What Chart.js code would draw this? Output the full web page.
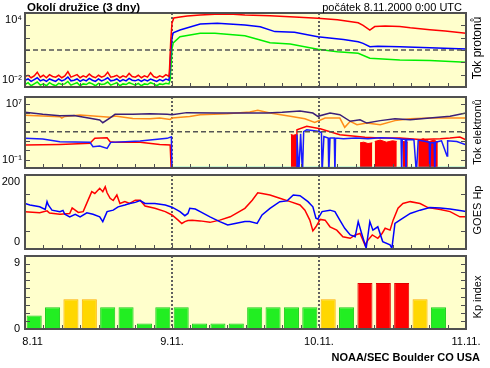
<!DOCTYPE html>
<html>
<head>
<meta charset="utf-8">
<script src="https://cdn.jsdelivr.net/npm/chart.js"></script>
<style>
  body { margin: 0; background: #fff; font-family: "Liberation Sans", Arial, sans-serif; }
  #wrap { position: relative; width: 490px; height: 368px; overflow: hidden; }
  canvas { position: absolute; left: 0; }
  .txt { position: absolute; white-space: nowrap; color: #000; }
  .side { position: absolute; left: 477px; font-size: 11px; white-space: nowrap;
          transform: translate(-50%, -50%) rotate(-90deg); }
</style>
</head>
<body>
<div id="wrap">
  <canvas id="p1" width="490" height="92" style="top:0px"></canvas>
  <canvas id="p2" width="490" height="80" style="top:92px"></canvas>
  <canvas id="p3" width="490" height="80" style="top:172px"></canvas>
  <canvas id="p4" width="490" height="116" style="top:252px"></canvas>
  <div class="txt" style="left:27px;top:1px;font-weight:bold;font-size:11.5px">Okolí družice (3 dny)</div>
  <div class="txt" style="right:28px;top:1px;font-size:11px">počátek 8.11.2000 0:00 UTC</div>
  <div class="side" style="top:48px;font-size:12px">Tok protonů</div>
  <div class="side" style="top:132px">Tok elektronů</div>
  <div class="side" style="top:210px">GOES Hp</div>
  <div class="side" style="top:297px">Kp index</div>
  <div class="txt" style="right:10px;top:351px;font-weight:bold;font-size:11px">NOAA/SEC Boulder CO USA</div>
</div>
<script>
// time axis (hours from 8.11. 0:00 UTC)
const dayHours = [24, 48];
const xLabels = ["8.11", "9.11.", "10.11.", "11.11."];

// protons, log10 of flux
const noiseHours = [0,0.5,1,1.5,2,2.5,3,3.5,4,4.5,5,5.5,6,6.5,7,7.5,8,8.5,9,9.5,10,10.5,11,11.5,
  12,12.5,13,13.5,14,14.5,15,15.5,16,16.5,17,17.5,18,18.5,19,19.5,20,20.5,21,21.5,22,22.5,23,23.5];
const pRedNoise = [-1.15,-1.05,-1.25,-1.1,-0.8,-1.2,-1.05,-1.25,-1.0,-1.15,
  -1.2,-1.05,-1.25,-1.1,-0.75,-1.2,-1.1,-1.0,-1.25,-1.1,
  -1.2,-0.95,-1.15,-1.25,-1.05,-1.2,-1.1,-0.8,-1.2,-1.15,
  -1.05,-1.25,-1.1,-1.2,-0.9,-1.15,-1.2,-1.05,-1.25,-1.1,
  -1.2,-0.85,-1.15,-1.25,-1.1,-1.2,-1.0,-1.15];
const pBlueNoise = [-1.45,-1.35,-1.55,-1.4,-1.25,-1.5,-1.4,-1.55,-1.35,-1.45,
  -1.55,-1.35,-1.5,-1.4,-1.2,-1.5,-1.45,-1.35,-1.55,-1.4,
  -1.5,-1.3,-1.45,-1.55,-1.35,-1.5,-1.4,-1.25,-1.5,-1.45,
  -1.35,-1.55,-1.4,-1.5,-1.3,-1.45,-1.5,-1.4,-1.55,-1.4,
  -1.5,-1.35,-1.45,-1.55,-1.4,-1.5,-1.35,-1.45];
const pGreenNoise = [-1.8,-1.65,-1.9,-1.75,-1.6,-1.85,-1.75,-1.9,-1.65,-1.8,
  -1.9,-1.7,-1.8,-1.75,-1.55,-1.85,-1.75,-1.65,-1.9,-1.75,
  -1.8,-1.65,-1.75,-1.9,-1.7,-1.8,-1.75,-1.6,-1.85,-1.75,
  -1.65,-1.9,-1.75,-1.8,-1.65,-1.75,-1.85,-1.7,-1.9,-1.75,
  -1.8,-1.65,-1.75,-1.9,-1.75,-1.8,-1.7,-1.75];
const pRedH = [23.6,23.8,24.0,24.3,25.3,26.5,28.6,31,34,35.9,40,44,47.8,51,54.4,55.2,56.3,57.1,58.8,61.2,62.9,66.1,68.6,72];
const pRedE = [-0.5,1.8,3.2,3.6,3.68,3.75,3.84,3.9,3.9,3.84,3.78,3.68,3.57,3.45,3.21,3.0,2.62,2.9,2.95,2.9,2.8,2.65,2.55,2.35];
const pBlueH = [23.6,23.8,24.0,24.2,25.3,28.6,31.4,35.9,38.4,40.8,44,47.8,52,54.4,55.2,56.3,57.6,61.2,66.1,72];
const pBlueE = [-1.0,0.8,2.0,2.4,2.62,3.1,3.17,3.03,2.89,2.49,2.44,2.08,1.85,1.67,1.54,1.27,1.3,1.27,1.19,1.08];
const pGreenH = [23.7,23.9,24.0,24.2,25.3,28.6,31,35.9,38.4,40,43.3,47.8,51,54.4,56.3,61.2,66.1,72];
const pGreenE = [-1.4,0.2,1.1,1.57,2.08,2.35,2.35,2.15,1.81,1.59,1.49,1.06,0.85,0.73,0.33,0.19,0.14,0.0];
const protonAlert = 1;
const p1TickExp = [-2, -1, 0, 1, 2, 3, 4];
const p1TickLabels = [["10⁻²", ""], "", "", "", "", "", ["", "10⁴"]];

// electrons, log10 of flux
const ePurpleH = [0,2.9,5.7,8,10.6,12.2,12.7,13.9,14.7,17.6,20.4,23.2,24.0,26.4,31.3,35,39.5,42,44.9,47.0,47.8,49.8,51.4,53.1,54.7,55.8,58.0,60.4,62.9,66.1,69.4,72];
const ePurpleE = [5.8,5.5,5.3,5.35,4.93,4.69,4.3,5.0,5.5,5.5,5.6,5.5,5.45,5.75,5.69,5.7,5.69,5.8,6.0,5.69,5.22,5.69,5.46,4.5,4.73,4.25,4.6,4.88,4.73,4.97,5.22,5.69];
const eOrangeH = [0,5.7,6.0,6.5,9.0,13.9,14.7,17.6,20.4,22.0,23.7,24.0,26.9,28.6,33,36.7,38.0,40.0,43.3,45.7,47.3,49.0,51.4,52.2,53.1,54.2,55.8,58.0,60.4,62.9,66.1,72];
const eOrangeE = [5.36,5.16,4.97,5.2,5.41,5.1,5.26,4.9,4.88,4.97,4.78,4.97,5.2,5.46,5.6,5.84,6.08,5.69,5.22,4.86,4.35,4.97,4.97,3.63,4.5,4.0,4.25,4.0,4.6,4.88,4.97,4.97];
const eBlueH = [0,2.9,5.7,10.6,11.1,12.2,13.4,14.0,18.8,23.2,23.9,24.0,34,44.3,44.4,44.7,45.0,45.3,45.5,46.0,
  47.8,48.4,48.5,48.8,49.5,49.6,49.8,50.5,50.6,50.7,52,54,56,58,60,61.4,61.5,61.6,62.1,62.2,
  62.3,63.5,63.9,64.2,66.0,66.1,66.2,66.8,66.9,67.0,68,68.9,69.0,70.5,72];
const eBlueE = [2.05,1.95,1.56,1.47,0.84,0.94,0.6,1.47,1.66,2.05,2.28,-3,null,-3,2.6,-3,2.7,-3,3.0,3.29,
  3.06,2.9,-3,2.3,2.1,-3,2.1,2.1,-3,2.1,2.0,2.1,2.0,2.15,2.05,1.95,-3,1.95,1.9,-3,
  1.9,1.85,-3,1.8,1.5,-3,1.4,1.4,-3,1.5,1.7,-0.5,1.7,1.6,1.13];
const eRedH = [0,5.7,10.6,11.4,13.4,13.9,14.7,18.8,22,23.7,23.9,34,44.3,44.4,46.0,48.2,51.4,53.9,55.5,58,61.2,64.5,67.8,69.4,71,72];
const eRedE = [1.08,1.18,1.33,2.05,2.14,1.56,1.47,1.47,1.18,1.1,-3,null,-3,3.29,3.78,3.43,2.57,2.34,2.2,2.1,2.1,1.9,2.0,2.09,2.24,1.85];
const eDropH = [43.4,43.8,44.3,44.35,54.7,55.3,56.0,56.7,56.8,57.1,58.0,59.0,60.0,60.7,60.8,61.7,62.5,62.6,64.2,65.0,66.0,66.8,67.4];
const eDropE = [2.6,2.5,2.6,null,1.4,1.5,1.3,1.4,null,1.6,1.8,1.5,1.7,1.6,null,1.6,1.5,null,1.7,2.0,1.6,1.8,1.5];
const eFloorH = [24, 72];
const eFloorE = [-2.17, -2.17];
const electronAlert = 3;
const p2TickExp = [-1, 1/3, 5/3, 3, 13/3, 17/3, 7];
const p2TickLabels = ["10⁻¹", "", "", "", "", "", "10⁷"];

// GOES Hp, nT
const hpRedH = [0,2.4,3.6,4.0,5.7,7.3,7.7,8.7,9.5,10.3,10.9,11.4,12.2,12.7,13.1,13.4,13.9,14.4,15.0,15.5,16.3,17.1,18.0,18.8,19.6,
  21.2,22.9,24.0,25.0,25.6,26.1,26.6,27.3,28.6,30.2,31.8,33.5,35.9,37.1,38.0,38.7,40.0,41.6,43.3,44.9,45.7,46.5,47.0,47.5,48.2,
  49.0,49.8,50.9,51.9,53.1,53.9,54.7,55.5,56.0,56.7,57.6,58.3,58.8,59.6,60.1,60.9,61.7,62.9,64.5,65.8,67.8,69.4,71.0,72];
const hpRedV = [101,98,103,97,94,96,111,99,101,132,155,150,164,155,168,152,137,131,146,123,128,123,132,132,116,
  110,101,92,78,69,74,77,78,76,72,78,87,110,132,152,150,146,137,128,119,105,78,49,60,80,
  78,60,51,33,29,38,42,11,24,38,29,42,56,51,78,110,123,128,123,112,107,101,87,87];
const hpBlueH = [0,0.8,2.4,3.3,3.6,3.8,4.4,5.7,6.2,6.5,7.3,8.2,9.0,10.1,11.1,12.2,12.7,13.4,14.4,15.2,16.3,17.1,18.0,18.8,19.6,
  21.2,22.9,24.0,25.3,26.1,26.6,26.9,27.8,28.6,30.2,31.8,33.1,34.3,35.9,36.7,37.9,38.7,40.0,41.6,42.8,43.8,44.9,46.2,47.0,47.5,
  47.8,48.5,49.8,50.6,51.4,52.2,53.1,53.9,54.4,55.0,55.7,56.3,56.8,57.6,58.4,59.6,59.9,60.4,61.2,62.9,64.5,66.1,67.8,69.4,71.0,72];
const hpBlueV = [123,119,114,107,128,119,105,101,104,94,87,94,87,98,94,87,74,101,105,114,119,123,126,131,123,
  123,119,113,101,90,96,110,108,101,87,74,65,69,74,74,69,92,110,128,130,146,144,128,114,83,
  81,101,105,101,78,56,38,33,74,40,2,74,51,60,20,11,2,69,78,96,105,112,111,108,104,101];
const p3Ticks = [0, 50, 150, 200];
const p3TickLabels = [["0", ""], "", "", ["", "200"]];

// Kp index, 3-hour intervals
const kpHours = [1.5,4.5,7.5,10.5,13.5,16.5,19.5,22.5,25.5,28.5,31.5,34.5,37.5,40.5,43.5,46.5,49.5,52.5,55.5,58.5,61.5,64.5,67.5,70.5];
const kpValues = [1.67,2.67,3.67,3.67,2.67,2.67,0.67,2.67,2.67,0.67,0.67,0.67,2.67,2.67,2.67,2.67,3.67,2.67,5.67,5.67,5.67,3.67,2.67,null];
const p4Ticks = [0,1,2,3,4,5,6,7,8,9];
const p4TickLabels = ["0","","","","","","","","",["","9"]];

Chart.defaults.font.family = '"Liberation Sans", Arial, sans-serif';
Chart.defaults.font.size = 11;
Chart.defaults.color = "#000";

const pow10 = e => Math.pow(10, e);
const pts = (hours, vals, f) => hours.map((h, i) => ({ x: h, y: vals[i] === null ? null : f(vals[i]) }));
const same = v => v;

// yellow plot area, dotted day lines, frame and inner ticks
const panelDeco = {
  id: "panelDeco",
  beforeDraw(chart) {
    const { ctx, chartArea: a } = chart;
    ctx.save();
    ctx.fillStyle = "#ffffcc";
    ctx.fillRect(a.left, a.top, a.width, a.height);
    ctx.restore();
  },
  beforeDatasetsDraw(chart) {
    const { ctx, chartArea: a, scales } = chart;
    ctx.save();
    ctx.strokeStyle = "#606060";
    ctx.lineWidth = 2;
    ctx.setLineDash([2, 2]);
    dayHours.forEach(h => {
      const px = Math.round(scales.x.getPixelForValue(h));
      ctx.beginPath();
      ctx.moveTo(px, a.top);
      ctx.lineTo(px, a.bottom);
      ctx.stroke();
    });
    ctx.restore();
  },
  afterDraw(chart) {
    const { ctx, chartArea: a, scales } = chart;
    ctx.save();
    ctx.strokeStyle = "#505050";
    ctx.lineWidth = 1;
    ctx.beginPath();
    scales.y.ticks.forEach(t => {
      const py = Math.round(scales.y.getPixelForValue(t.value)) + 0.5;
      if (py < a.top + 2 || py > a.bottom - 2) return;
      ctx.moveTo(a.left, py); ctx.lineTo(a.left + 5, py);
      ctx.moveTo(a.right - 5, py); ctx.lineTo(a.right, py);
    });
    scales.x.ticks.forEach(t => {
      const px = Math.round(scales.x.getPixelForValue(t.value)) + 0.5;
      if (px < a.left + 2 || px > a.right - 2) return;
      ctx.moveTo(px, a.bottom); ctx.lineTo(px, a.bottom - 4);
    });
    ctx.stroke();
    ctx.lineWidth = 2;
    ctx.strokeRect(a.left, a.top, a.width, a.height);
    ctx.restore();
  }
};

function xAxis(showLabels) {
  return {
    type: "linear", min: 0, max: 72, offset: false,
    grid: { display: false, drawTicks: false, offset: false },
    border: { display: false },
    ticks: {
      stepSize: 3, autoSkip: false, maxRotation: 0, display: showLabels, padding: 6,
      callback: v => (v % 24 === 0 ? (v === 0 ? "     " + xLabels[0] : xLabels[v / 24]) : "")
    },
    afterFit: s => { s.height = showLabels ? 39 : 0; s.paddingLeft = 0; s.paddingRight = 0; }
  };
}

function yAxis(base, tickValues, tickLabels, pad) {
  return Object.assign(base, {
    grid: { display: false, drawTicks: false },
    border: { display: false },
    afterBuildTicks: s => { s.ticks = tickValues.map(v => ({ value: v })); },
    ticks: { autoSkip: false, padding: pad, callback: (v, i) => tickLabels[i] },
    afterFit: s => { s.width = 25; s.paddingTop = 0; s.paddingBottom = 0; }
  });
}

function line(data, color, extra) {
  return Object.assign({ data, borderColor: color, borderWidth: 1.5, pointRadius: 0, tension: 0, fill: false }, extra || {});
}

function baseOptions(pad, x, y) {
  return {
    responsive: false, animation: false, devicePixelRatio: 1,
    layout: { padding: { left: 0, right: 24, top: pad[0], bottom: pad[1] } },
    plugins: { legend: { display: false }, tooltip: { enabled: false } },
    scales: { x, y }
  };
}

// protons
new Chart(document.getElementById("p1"), {
  type: "line",
  data: {
    datasets: [
      line([{ x: 0, y: pow10(protonAlert) }, { x: 72, y: pow10(protonAlert) }], "#555", { borderDash: [5, 3] }),
      line(pts(noiseHours.concat(pRedH), pRedNoise.concat(pRedE), pow10), "#ff0000"),
      line(pts(noiseHours.concat(pBlueH), pBlueNoise.concat(pBlueE), pow10), "#0000ff"),
      line(pts(noiseHours.concat(pGreenH), pGreenNoise.concat(pGreenE), pow10), "#00ee00")
    ]
  },
  options: baseOptions([13, 5], xAxis(false),
    yAxis({ type: "logarithmic", min: pow10(-2), max: pow10(4) }, p1TickExp.map(pow10), p1TickLabels, 3)),
  plugins: [panelDeco]
});

// electrons
new Chart(document.getElementById("p2"), {
  type: "line",
  data: {
    datasets: [
      line([{ x: 0, y: pow10(electronAlert) }, { x: 72, y: pow10(electronAlert) }], "#555", { borderDash: [5, 3] }),
      line(pts(ePurpleH, ePurpleE, pow10), "#3b1f78"),
      line(pts(eOrangeH, eOrangeE, pow10), "#ff8c1a"),
      line(pts(eBlueH, eBlueE, pow10), "#1a1aff"),
      line(pts(eRedH, eRedE, pow10), "#ff0000"),
      line(pts(eFloorH, eFloorE, pow10), "#33dddd", { borderWidth: 2 }),
      line(pts(eDropH, eDropE, pow10), "#ff0000", { borderWidth: 1, fill: "start", backgroundColor: "#ff0000" })
    ]
  },
  options: baseOptions([5, 4], xAxis(false),
    yAxis({ type: "logarithmic", min: pow10(-2.22), max: pow10(8) }, p2TickExp.map(pow10), p2TickLabels, 3)),
  plugins: [panelDeco]
});

// GOES Hp
new Chart(document.getElementById("p3"), {
  type: "line",
  data: {
    datasets: [
      line(pts(hpBlueH, hpBlueV, same), "#0000ff"),
      line(pts(hpRedH, hpRedV, same), "#ff0000")
    ]
  },
  options: baseOptions([3, 3], xAxis(false),
    yAxis({ type: "linear", min: 0, max: 200 }, p3Ticks, p3TickLabels, 5)),
  plugins: [panelDeco]
});

// Kp index
const kpColor = v => (v >= 5 ? "#ff0000" : v >= 3.5 ? "#ffd700" : "#22ee22");
const kpBorder = v => (v >= 5 ? "#e00000" : v >= 3.5 ? "#ffb000" : "#1ccc1c");
new Chart(document.getElementById("p4"), {
  type: "bar",
  data: {
    datasets: [{
      data: pts(kpHours, kpValues, same),
      backgroundColor: kpValues.map(kpColor),
      borderColor: kpValues.map(kpBorder),
      borderWidth: 1,
      categoryPercentage: 1,
      barPercentage: 0.82
    }]
  },
  options: baseOptions([4, 0], xAxis(true),
    yAxis({ type: "linear", min: 0, max: 9 }, p4Ticks, p4TickLabels, 5)),
  plugins: [panelDeco]
});
</script>
</body>
</html>
